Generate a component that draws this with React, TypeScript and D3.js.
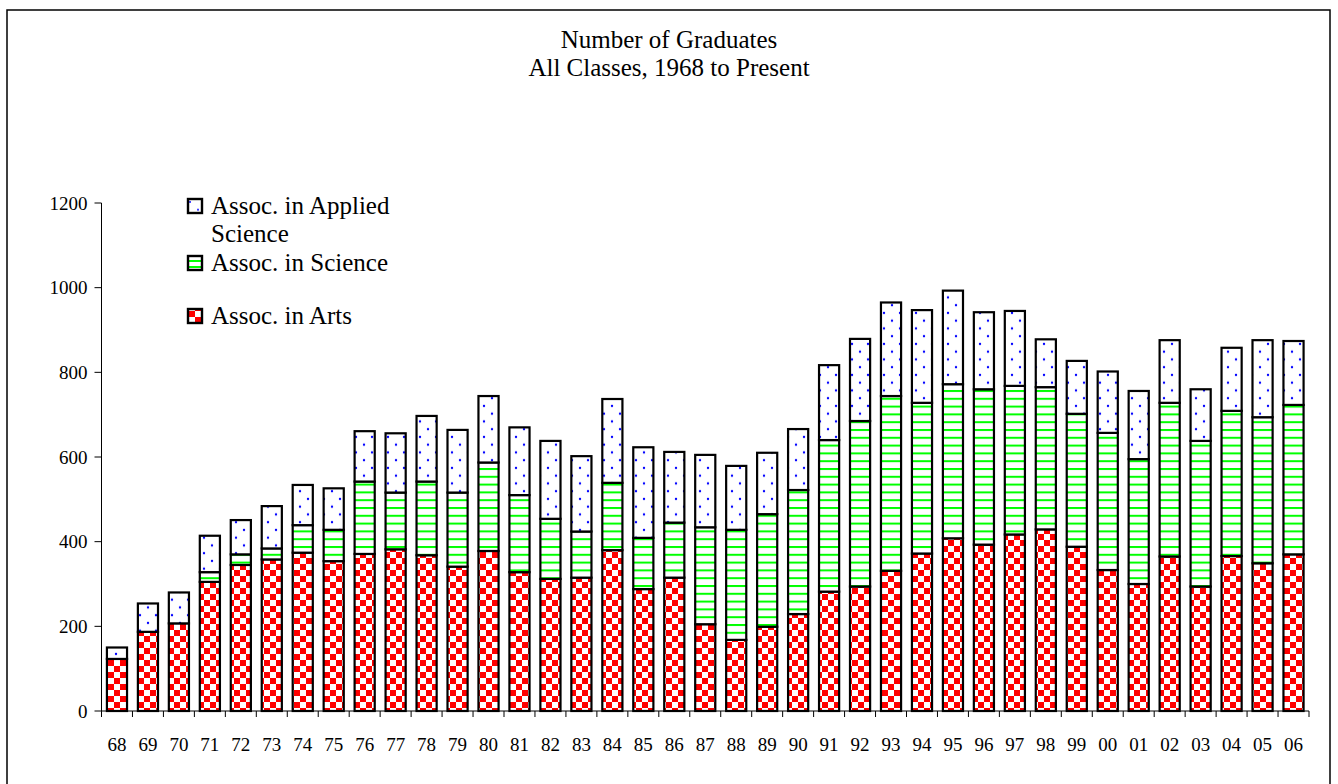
import React from "react";
import * as d3 from "d3";

const years = ["68","69","70","71","72","73","74","75","76","77","78","79","80","81","82","83","84","85","86","87","88","89","90","91","92","93","94","95","96","97","98","99","00","01","02","03","04","05","06"];
const arts = [123,187,207,305,345,358,374,354,371,382,368,341,378,328,312,315,380,288,315,205,168,199,229,282,294,331,372,408,393,417,429,388,333,300,365,294,366,349,370];
const science = [0,0,0,23,25,26,65,74,171,134,174,175,209,182,142,109,159,121,130,229,260,266,293,358,391,413,356,364,367,351,336,314,324,295,363,344,343,345,353];
const applied = [27,67,73,86,81,100,95,98,119,140,155,148,157,160,184,178,198,214,167,171,151,145,144,177,194,221,219,221,182,177,113,125,145,161,148,122,149,182,151];
const yTicks = [0,200,400,600,800,1000,1200];
const seriesKeys = ["arts","science","applied"];
const seriesFills = ["url(#checker)","url(#hlines)","url(#dots)"];
const legendItems = [
  { lines: ["Assoc. in Applied", "Science"], fill: "url(#dotsLeg)" },
  { lines: ["Assoc. in Science"], fill: "url(#hlinesLeg)" },
  { lines: ["Assoc. in Arts"], fill: "url(#checkerLeg)" },
];
const titleLines = ["Number of Graduates", "All Classes, 1968 to Present"];

const FONT = "'Liberation Serif', 'Times New Roman', serif";

export default function App() {
  const W = 1338, H = 784;
  const x0 = 101.5, x1 = 1309, yTop = 203, yBot = 711;
  const x = d3.scaleBand<string>().domain(years).range([x0, x1]).padding(0);
  const y = d3.scaleLinear().domain([0, 1200]).range([yBot, yTop]);
  const barW = x.bandwidth() * 0.65;

  const table = years.map((yr, i) => ({ yr, arts: arts[i], science: science[i], applied: applied[i] }));
  const stacked = d3.stack<any>().keys(seriesKeys)(table);

  const legendY = [199, 256, 309];

  return (
    <svg width={W} height={H} style={{ position: "absolute", left: 0, top: 0, background: "#fff" }} fontFamily={FONT}>
      <defs>
        <pattern id="checker" patternUnits="userSpaceOnUse" width={12} height={12}>
          <rect width={12} height={12} fill="#fff" />
          <rect width={6} height={6} fill="#ff0000" />
          <rect x={6} y={6} width={6} height={6} fill="#ff0000" />
        </pattern>
        <pattern id="hlines" patternUnits="userSpaceOnUse" width={8} height={7.8}>
          <rect width={8} height={7.8} fill="#fff" />
          <rect y={0} width={8} height={2} fill="#00ff00" />
        </pattern>
        <pattern id="dots" patternUnits="userSpaceOnUse" width={16} height={15.5}>
          <rect width={16} height={15.5} fill="#fff" />
          <circle cx={4} cy={3} r={1.2} fill="#0000ff" />
          <circle cx={12} cy={10.75} r={1.2} fill="#0000ff" />
        </pattern>
        <pattern id="checkerLeg" patternUnits="userSpaceOnUse" width={12} height={12} x={189} y={311}>
          <rect width={12} height={12} fill="#fff" />
          <rect width={6} height={6} fill="#ff0000" />
          <rect x={6} y={6} width={6} height={6} fill="#ff0000" />
        </pattern>
        <pattern id="hlinesLeg" patternUnits="userSpaceOnUse" width={8} height={6} x={0} y={259}>
          <rect width={8} height={6} fill="#fff" />
          <rect y={1} width={8} height={2} fill="#00ff00" />
        </pattern>
        <pattern id="dotsLeg" patternUnits="userSpaceOnUse" width={16} height={15.5} x={187} y={200}>
          <rect width={16} height={15.5} fill="#fff" />
          <circle cx={3} cy={2} r={1} fill="#0000ff" />
          <circle cx={11} cy={9.75} r={1} fill="#0000ff" />
        </pattern>
      </defs>

      <rect x={7} y={10} width={1323} height={790} fill="#fff" stroke="#000" strokeWidth={1.5} />

      {titleLines.map((t, i) => (
        <text key={t} x={669} y={48 + i * 28} textAnchor="middle" fontSize={25} fill="#000">{t}</text>
      ))}

      {/* y axis */}
      <line x1={x0} x2={x0} y1={yTop} y2={yBot} stroke="#000" strokeWidth={1} />
      {yTicks.map((t) => (
        <g key={t}>
          <line x1={x0 - 7} x2={x0} y1={y(t)} y2={y(t)} stroke="#000" strokeWidth={1} />
          <text x={x0 - 14} y={y(t)} dy="0.35em" textAnchor="end" fontSize={19} fill="#000">{t}</text>
        </g>
      ))}

      {/* bars */}
      {stacked.map((s, si) => (
        <g key={s.key}>
          {s.map((d, i) => {
            const h = y(d[0]) - y(d[1]);
            if (h <= 0) return null;
            return (
              <rect key={i} x={(x(years[i]) as number) + (x.bandwidth() - barW) / 2} y={y(d[1])} width={barW} height={h}
                fill={seriesFills[si]} stroke="#000" strokeWidth={2.2} />
            );
          })}
        </g>
      ))}

      {/* x axis */}
      <line x1={x0} x2={x1} y1={yBot} y2={yBot} stroke="#000" strokeWidth={1} />
      {years.map((yr, i) => (
        <line key={"t" + yr} x1={x0 + i * x.step()} x2={x0 + i * x.step()} y1={yBot} y2={yBot + 6} stroke="#000" strokeWidth={1} />
      ))}
      <line x1={x1} x2={x1} y1={yBot} y2={yBot + 6} stroke="#000" strokeWidth={1} />
      {years.map((yr) => (
        <text key={"l" + yr} x={(x(yr) as number) + x.bandwidth() / 2} y={751} textAnchor="middle" fontSize={19} fill="#000">{yr}</text>
      ))}

      {/* legend */}
      {legendItems.map((it, i) => (
        <g key={i}>
          <rect x={188} y={legendY[i]} width={14} height={14} fill={it.fill} stroke="#000" strokeWidth={2.4} />
          {it.lines.map((ln, j) => (
            <text key={j} x={211} y={legendY[i] + 15 + j * 27.5} fontSize={25} fill="#000">{ln}</text>
          ))}
        </g>
      ))}
    </svg>
  );
}
